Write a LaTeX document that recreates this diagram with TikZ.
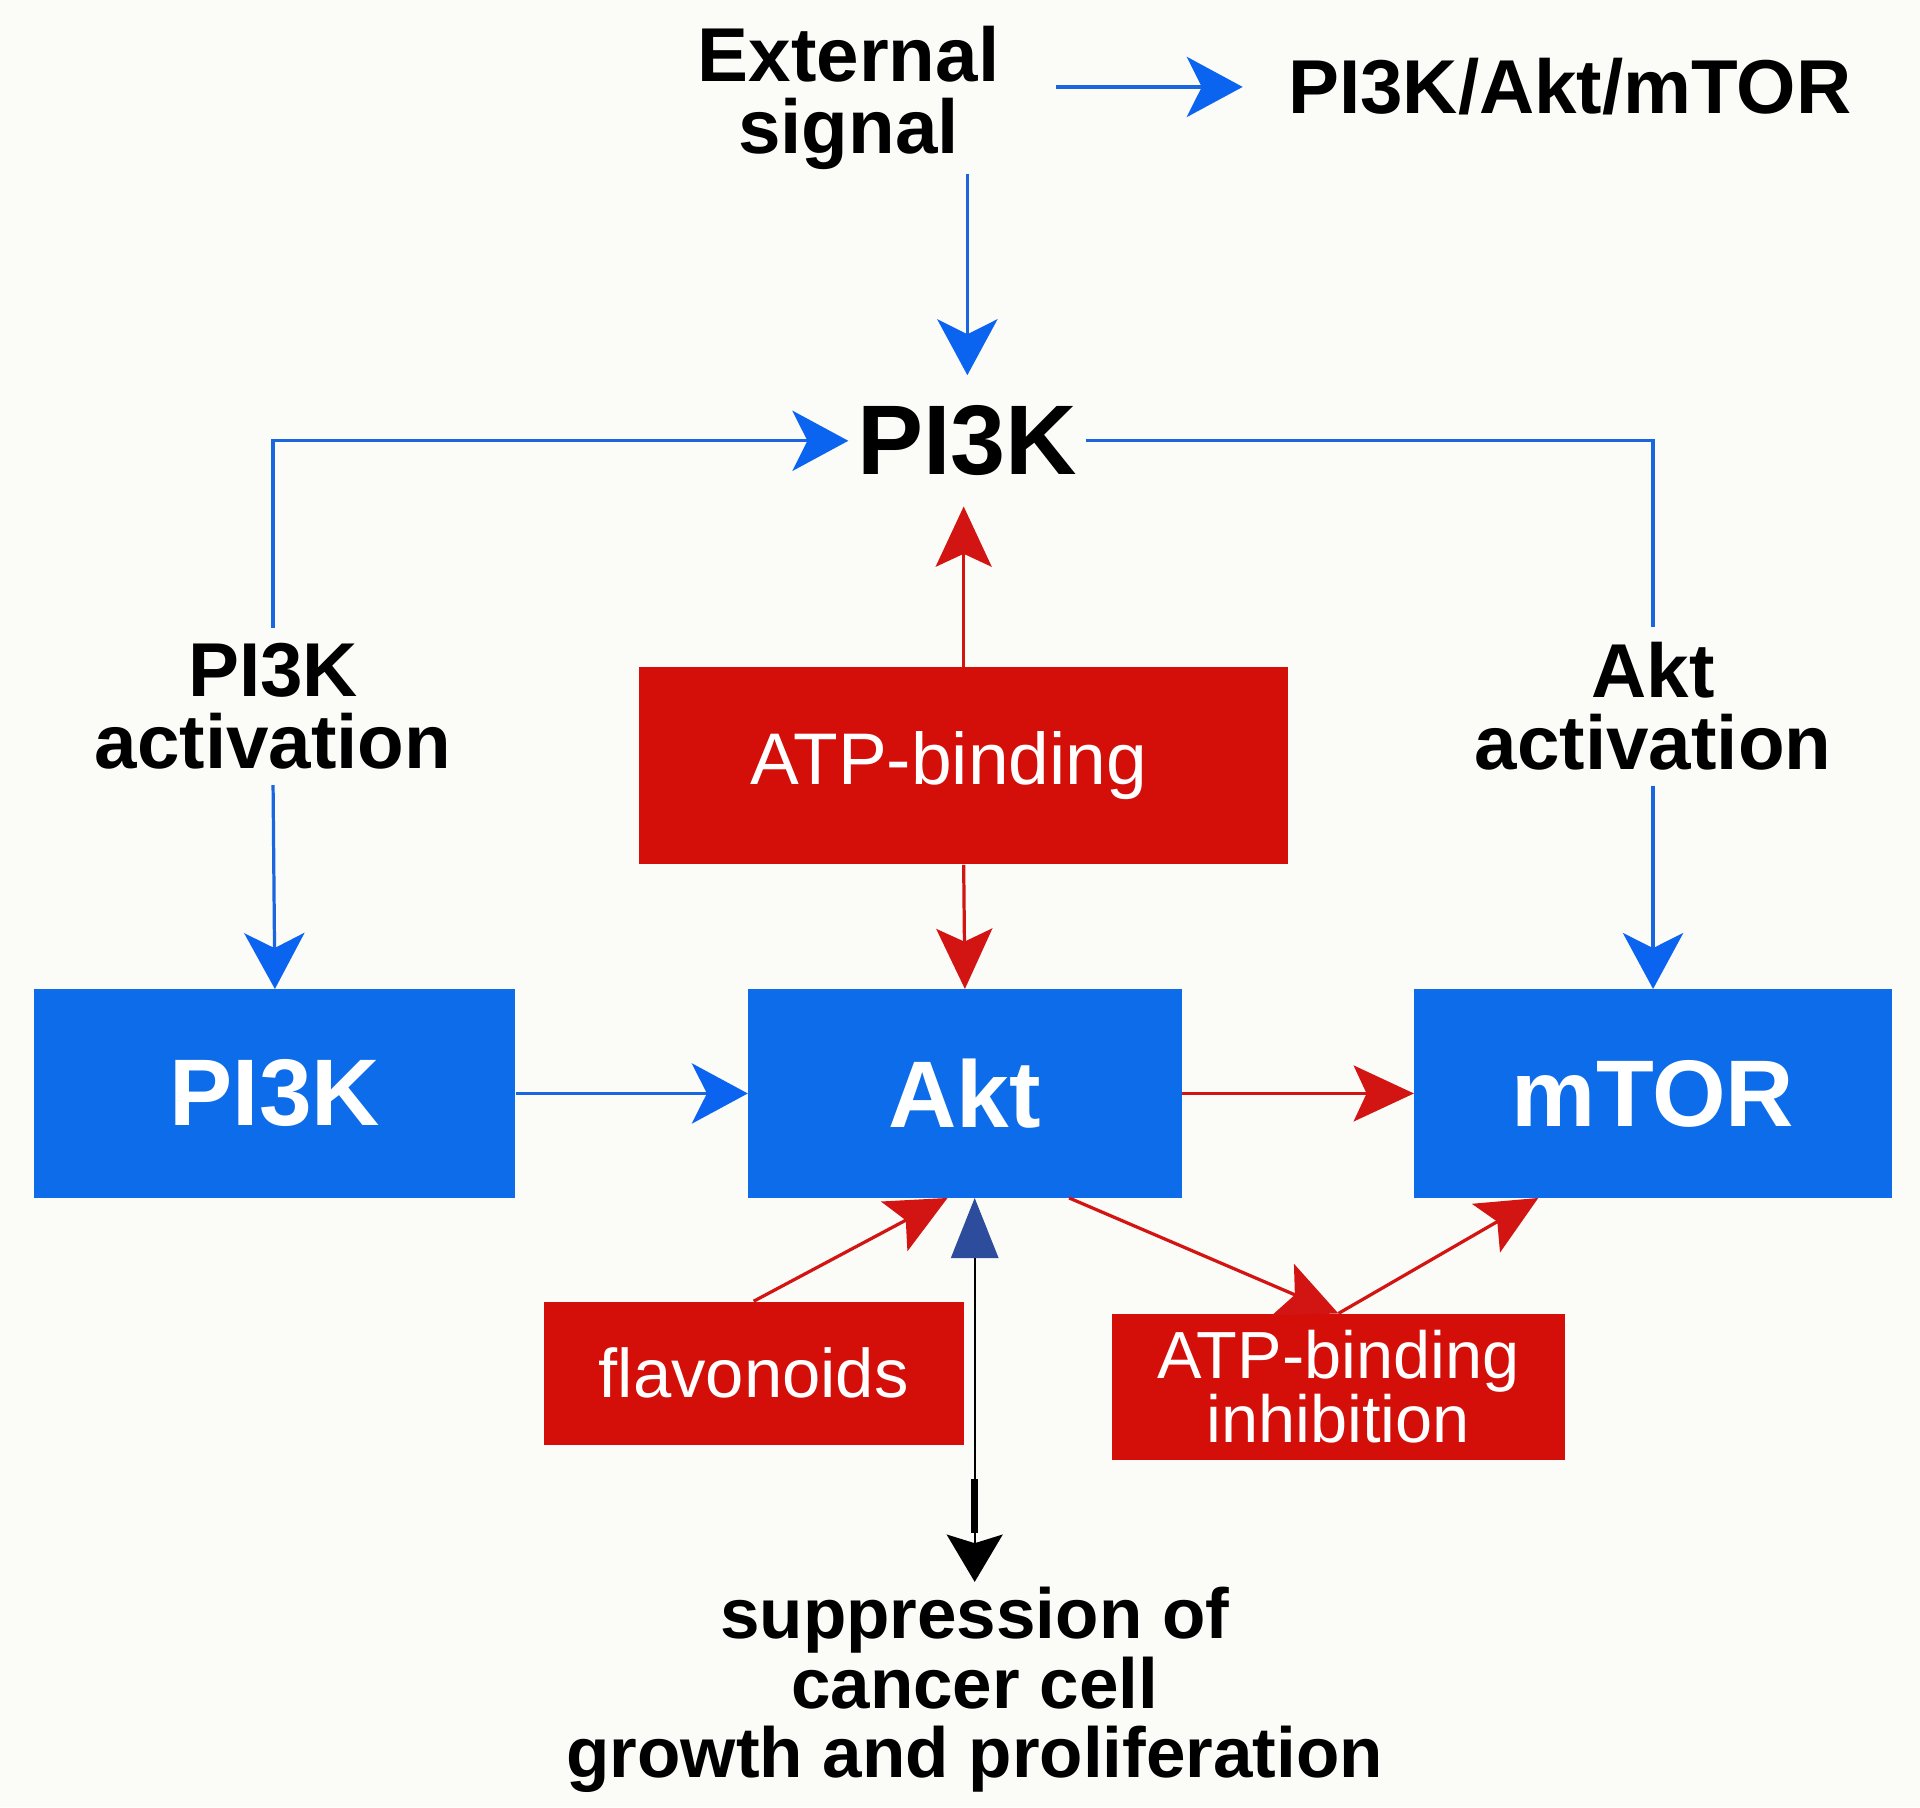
\documentclass[tikz,border=0pt]{standalone}
\usepackage{fontspec}
\setmainfont{Liberation Sans}
\usetikzlibrary{arrows.meta,calc}
\definecolor{bgc}{HTML}{FBFBF8}
\definecolor{boxblue}{HTML}{0C6CE9}
\definecolor{lineblue}{HTML}{1A66E0}
\definecolor{headblue}{HTML}{0A64F0}
\definecolor{boxred}{HTML}{D40E08}
\definecolor{linered}{HTML}{D21512}
\definecolor{navyhead}{HTML}{2E4C9C}
\begin{document}
\begin{tikzpicture}[x=0.02cm,y=-0.02cm,
  bluebox/.style={fill=boxblue, draw=none, text=white, font=\fontsize{44}{44}\selectfont\bfseries, minimum height=3.4cm, inner sep=0pt},
  redbox/.style={fill=boxred, draw=none, text=white, font=\fontsize{32}{29}\selectfont, align=center, inner sep=0pt},
  lbl/.style={align=center, font=\fontsize{35.5}{33.5}\selectfont\bfseries, inner sep=2pt, text=black},
  blueline/.style={draw=lineblue, line width=1.5pt},
  bluearr/.style={blueline, -{Stealth[length=26pt,width=28pt,inset=7pt,color=headblue]}},
  redarr/.style={draw=linered, line width=1.5pt, -{Stealth[length=28pt,width=26pt,inset=6pt,color=linered]}},
]
\fill[bgc] (0,0) rectangle (1568,1476);
\useasboundingbox (0,0) rectangle (1568,1476);

% boxes
\node[bluebox, minimum width=7.86cm] (pb) at (224.5,893) {PI3K};
\node[bluebox, minimum width=7.08cm] (akt) at (788,893) {Akt};
\node[bluebox, minimum width=7.8cm] (mt) at (1350,893) {mTOR};
\node[redbox, minimum width=10.6cm, minimum height=3.22cm, font=\fontsize{34}{34}\selectfont] (atp) at (787,625.5) {\hspace*{-14pt}ATP-binding};
\node[redbox, minimum width=6.86cm, minimum height=2.34cm] (fl) at (615.5,1121.5) {flavonoids};
\node[redbox, minimum width=7.4cm, minimum height=2.38cm, font=\fontsize{31}{28.5}\selectfont] (inh) at (1093,1132.5) {ATP-binding\\inhibition};

% labels
\node[lbl] (ext) at (693,80) {External\\signal};
\node[lbl] (pam) at (1282,71) {PI3K/Akt/mTOR};
\node[lbl, font=\fontsize{46}{46}\selectfont\bfseries, inner xsep=4pt, inner ysep=14pt] (pk) at (790,360) {PI3K};
\node[lbl, inner ysep=7pt] (pil) at (223,577) {PI3K\\activation};
\node[lbl, inner ysep=7pt] (akl) at (1350,577) {Akt\\activation};
\node[lbl, font=\fontsize{33}{32.5}\selectfont\bfseries] (sup) at (796,1380) {suppression of\\cancer cell\\growth and proliferation};

% connectors
\draw[bluearr] (pk.north |- ext.south) -- (pk.north);
\draw[bluearr, shorten <=24pt, shorten >=19pt] (ext.east |- pam.west) -- (pam.west);
\draw[bluearr] (pil.north) |- (pk.west);
\draw[blueline] (pk.east) -| (akl.north);
\draw[bluearr] (pil.south) -- (pb.north);
\draw[bluearr] (akl.south) -- (mt.north);
\draw[bluearr] (pb.east) -- (akt.west);
\draw[redarr] (akt.east) -- (mt.west);
\draw[redarr] (atp.north) -- (atp.north |- pk.south);
\draw[redarr] (atp.south) -- (akt.north);
\draw[redarr] (fl.north) -- ($(akt.south west)!0.46!(akt.south east)$);
\draw[redarr] ($(akt.south west)!0.74!(akt.south east)$) -- (inh.north);
\draw[redarr] (inh.north) -- ($(mt.south west)!0.26!(mt.south east)$);

% double arrow
\draw[line width=1.1pt, {Triangle[length=28pt,width=22pt,color=navyhead]}-{Stealth[length=22pt,width=26pt,inset=4pt]}] (sup.north |- akt.south) -- (sup.north);
\draw[line width=3.5pt] ($(sup.north)+(0,-84)$) -- ($(sup.north)+(0,-40)$);
\end{tikzpicture}
\end{document}
